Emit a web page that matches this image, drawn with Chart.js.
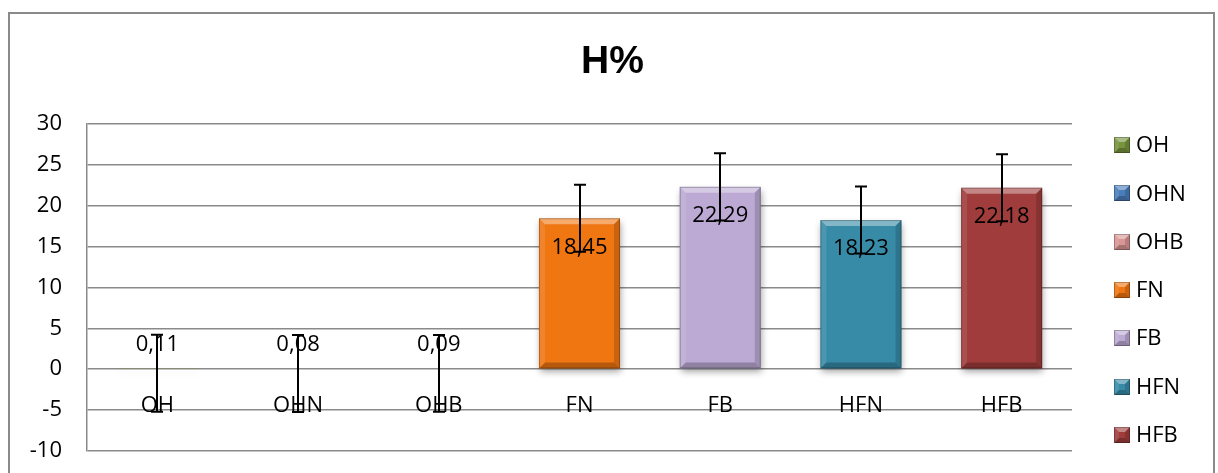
<!DOCTYPE html>
<html>
<head>
<meta charset="utf-8">
<title>H%</title>
<script src="https://cdn.jsdelivr.net/npm/chart.js@4/dist/chart.umd.min.js"></script>
<style>
  html, body { margin: 0; padding: 0; background: #ffffff; }
  canvas { display: block; }
</style>
</head>
<body>
<canvas id="chart" width="1218" height="473"></canvas>
<script>
// Samples and their mean H% values
const categories = ['OH', 'OHN', 'OHB', 'FN', 'FB', 'HFN', 'HFB'];
const hValues = [0.11, 0.08, 0.09, 18.45, 22.29, 18.23, 22.18];
// Error bar extents above and below each mean
const errPlus = [4.1, 4.1, 4.1, 4.1, 4.1, 4.1, 4.1];
const errMinus = [5.3, 5.3, 5.3, 4.1, 4.1, 4.1, 4.1];
// Value axis ticks
const yMin = -10;
const yMax = 30;
const yStep = 5;

const barColors = ['#77933c', '#4a7ebb', '#d99694', '#f07612', '#bcaad4', '#378ba7', '#a03c3b'];

const FONT = 'Open Sans';
const gridGray = '#8a8a8a';

function fmt(v) {
  return v.toFixed(2).replace('.', ',');
}

// Bevel shading on a rectangle, like an Office "angle" bevel
function bevel(ctx, l, t, r, b, size) {
  const s = Math.min(size, (b - t) / 2, (r - l) / 2);
  if (s < 1) return;
  const poly = (pts, fill) => {
    ctx.beginPath();
    ctx.moveTo(pts[0][0], pts[0][1]);
    for (let i = 1; i < pts.length; i++) ctx.lineTo(pts[i][0], pts[i][1]);
    ctx.closePath();
    ctx.fillStyle = fill;
    ctx.fill();
  };
  poly([[l, t], [r, t], [r - s, t + s], [l + s, t + s]], 'rgba(255,255,255,0.38)');
  poly([[l, t], [l + s, t + s], [l + s, b - s], [l, b]], 'rgba(255,255,255,0.10)');
  poly([[r, t], [r, b], [r - s, b - s], [r - s, t + s]], 'rgba(0,0,0,0.16)');
  poly([[l, b], [r, b], [r - s, b - s], [l + s, b - s]], 'rgba(0,0,0,0.24)');
  ctx.strokeStyle = 'rgba(0,0,0,0.25)';
  ctx.lineWidth = 1;
  ctx.strokeRect(l + 0.5, t + 0.5, r - l - 1, b - t - 1);
}

const chartDecor = {
  id: 'chartDecor',
  beforeDraw(chart) {
    const ctx = chart.ctx;
    ctx.save();
    ctx.fillStyle = '#ffffff';
    ctx.fillRect(0, 0, chart.width, chart.height);
    ctx.strokeStyle = gridGray;
    ctx.lineWidth = 2;
    ctx.strokeRect(9, 13, 1205, 500);
    ctx.restore();
  },
  beforeDatasetsDraw(chart) {
    const ctx = chart.ctx;
    ctx.save();
    ctx.shadowColor = 'rgba(0,0,0,0.38)';
    ctx.shadowBlur = 7;
    ctx.shadowOffsetX = 1;
    ctx.shadowOffsetY = 4;
  },
  afterDatasetsDraw(chart) {
    const ctx = chart.ctx;
    ctx.restore();
    const meta = chart.getDatasetMeta(0);
    const yScale = chart.scales.y;
    ctx.save();
    // bevels
    meta.data.forEach((bar) => {
      const p = bar.getProps(['x', 'y', 'base', 'width'], true);
      const l = p.x - p.width / 2, r = p.x + p.width / 2;
      const t = Math.min(p.y, p.base), b = Math.max(p.y, p.base);
      if (b - t > 14) bevel(ctx, l, t, r, b, 6);
    });
    // value labels
    ctx.font = '22px "' + FONT + '"';
    ctx.fillStyle = '#000000';
    ctx.textAlign = 'center';
    ctx.textBaseline = 'middle';
    meta.data.forEach((bar, i) => {
      const p = bar.getProps(['x', 'y', 'base'], true);
      const h = p.base - p.y;
      const ly = h > 60 ? p.y + 29 : p.y - 24;
      ctx.fillText(fmt(hValues[i]), p.x, ly);
    });
    // error bars
    ctx.strokeStyle = '#000000';
    ctx.lineWidth = 2;
    const cap = 6;
    meta.data.forEach((bar, i) => {
      const x = Math.round(bar.x);
      const yTop = yScale.getPixelForValue(hValues[i] + errPlus[i]);
      const yBot = yScale.getPixelForValue(hValues[i] - errMinus[i]);
      ctx.beginPath();
      ctx.moveTo(x, yTop);
      ctx.lineTo(x, yBot);
      ctx.moveTo(x - cap, yTop);
      ctx.lineTo(x + cap, yTop);
      ctx.moveTo(x - cap, yBot);
      ctx.lineTo(x + cap, yBot);
      ctx.stroke();
    });
    ctx.restore();
  },
  afterDraw(chart) {
    // legend: one entry per sample
    const ctx = chart.ctx;
    const area = chart.chartArea;
    const boxX = area.right + 42;
    const firstY = 145;
    const gap = 48.3;
    const box = 16;
    ctx.save();
    ctx.font = '22px "' + FONT + '"';
    ctx.textAlign = 'left';
    ctx.textBaseline = 'middle';
    categories.forEach((name, i) => {
      const cy = firstY + i * gap;
      const t = Math.round(cy - box / 2);
      ctx.fillStyle = barColors[i];
      ctx.fillRect(boxX, t, box, box);
      bevel(ctx, boxX, t, boxX + box, t + box, 5);
      ctx.fillStyle = '#000000';
      ctx.fillText(name, boxX + box + 6, cy + 1);
    });
    ctx.restore();
  }
};

const tickFont = { family: FONT, size: 22 };

new Chart(document.getElementById('chart'), {
  type: 'bar',
  data: {
    labels: categories,
    datasets: [{
      label: 'H%',
      data: hValues,
      backgroundColor: barColors,
      borderWidth: 0,
      barPercentage: 0.576,
      categoryPercentage: 1
    }]
  },
  options: {
    responsive: false,
    animation: false,
    devicePixelRatio: 1,
    layout: { padding: { left: 7, top: 12, right: 0, bottom: 22 } },
    plugins: {
      legend: { display: false },
      tooltip: { enabled: false },
      title: {
        display: true,
        text: 'H%',
        color: '#000000',
        font: { family: 'Liberation Sans', size: 39, weight: 'bold' },
        padding: { top: 27, bottom: 38 }
      }
    },
    scales: {
      x: {
        position: { y: 0 },
        grid: { display: false },
        border: { display: false },
        ticks: { color: '#000000', font: tickFont, padding: 15, maxRotation: 0, autoSkip: false },
        afterFit(scale) { scale.height = 0; }
      },
      y: {
        min: yMin,
        max: yMax,
        ticks: { stepSize: yStep, color: '#000000', font: tickFont, padding: 0 },
        // invisible tick marks keep the labels clear of the axis line
        grid: { color: gridGray, lineWidth: 1.5, drawTicks: true, tickLength: 25, tickColor: 'rgba(0,0,0,0)' },
        border: { color: gridGray, width: 1.5 },
        afterFit(scale) { scale.width = 80; }
      },
      legendSpace: {
        type: 'linear',
        position: 'right',
        min: 0,
        max: 1,
        grid: { display: false },
        border: { display: false },
        ticks: { display: false },
        afterFit(scale) { scale.width = 146; }
      }
    }
  },
  plugins: [chartDecor]
});
</script>
</body>
</html>
